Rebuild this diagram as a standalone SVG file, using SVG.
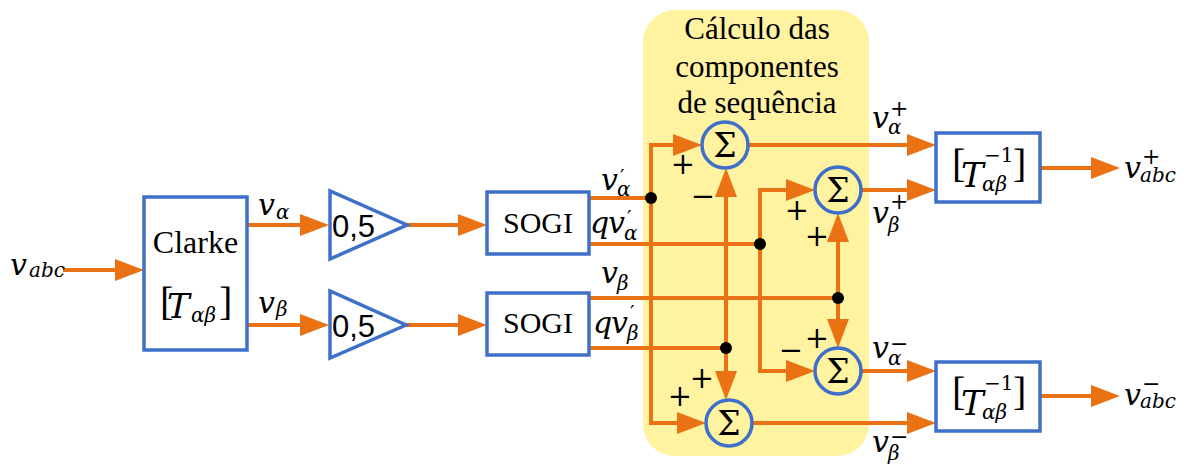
<svg xmlns="http://www.w3.org/2000/svg" width="1184" height="473" viewBox="0 0 1184 473">
<defs>
<style>
.w{fill:none;stroke:#EB7214;stroke-width:4}
.a{marker-end:url(#arr)}
.blk{fill:#fff;stroke:#3E6FC9;stroke-width:3.5}
.sum{fill:none;stroke:#3E6FC9;stroke-width:3.5}
.dot{fill:#000}
.t{font-family:"Liberation Serif","Times New Roman",serif;fill:#000}
.m{font-family:"DejaVu Serif",serif;font-style:italic;fill:#000}
.s{font-family:"DejaVu Serif",serif;fill:#000}
.g{font-family:"Liberation Sans",Arial,sans-serif;font-size:31px;fill:#000}
.v{font-size:30px}
.sb{font-size:20px}
.sp{font-size:22px}
.sg{font-family:"DejaVu Serif",serif;font-size:29px;text-anchor:middle;fill:#000}
.sig{font-family:"DejaVu Serif",serif;font-size:33px;text-anchor:middle;fill:#000}
</style>
<marker id="arr" markerUnits="userSpaceOnUse" markerWidth="30" markerHeight="24" refX="9" refY="11" orient="auto">
<path d="M0,0 L29,11 L0,22 z" fill="#EB7214"/>
</marker>
</defs>
<rect width="1184" height="473" fill="#fff"/>

<g id="seq-box">
<rect x="643" y="10" width="226" height="446" rx="32" ry="32" fill="#FFF2A1"/>
<text class="t" x="757" y="39" font-size="31" text-anchor="middle">Cálculo das</text>
<text class="t" x="757" y="77" font-size="31" text-anchor="middle">componentes</text>
<text class="t" x="757" y="113" font-size="31" text-anchor="middle">de sequência</text>
</g>

<g id="connectors">
<path class="w a" d="M63,270 H124"/>
<path class="w a" d="M247,225 H309"/>
<path class="w a" d="M247,325 H309"/>
<path class="w a" d="M407,225 H467"/>
<path class="w a" d="M406,325 H467"/>
<path class="w" d="M589,198 H651"/>
<path class="w" d="M589,244 H760"/>
<path class="w" d="M589,298 H838"/>
<path class="w" d="M589,348 H726"/>
<path class="w a" d="M651,198 V145 H682"/>
<path class="w a" d="M651,198 V423 H686"/>
<path class="w a" d="M760,244 V190 H795"/>
<path class="w a" d="M760,244 V371 H795"/>
<path class="w a" d="M838,298 V233"/>
<path class="w a" d="M838,298 V328"/>
<path class="w a" d="M726,348 V188"/>
<path class="w a" d="M726,348 V380"/>
<path class="w a" d="M748,145 H916"/>
<path class="w a" d="M861,190 H916"/>
<path class="w a" d="M860,371 H916"/>
<path class="w a" d="M752,423 H916"/>
<path class="w a" d="M1040,168 H1100"/>
<path class="w a" d="M1040,396 H1100"/>
<circle class="dot" cx="651" cy="198" r="6"/>
<circle class="dot" cx="760" cy="244" r="6"/>
<circle class="dot" cx="838" cy="298" r="6"/>
<circle class="dot" cx="726" cy="348" r="6"/>
</g>

<g id="input-label">
<text class="m v" x="10" y="275">v</text>
<text class="m sb" x="29" y="277">abc</text>
</g>

<g id="clarke">
<rect class="blk" x="144" y="197" width="103" height="153"/>
<text class="t" x="195.5" y="253" font-size="32" text-anchor="middle">Clarke</text>
<text class="t" x="160" y="315" font-size="40">[</text>
<text class="m" x="167" y="318" font-size="34">T</text>
<text class="m sb" x="191" y="322">αβ</text>
<text class="t" x="219" y="315" font-size="40">]</text>
</g>

<g id="clarke-labels">
<text class="m v" x="258" y="215">v</text>
<text class="m sb" x="276" y="219">α</text>
<text class="m v" x="258" y="313">v</text>
<text class="m sb" x="276" y="316">β</text>
</g>

<g id="gain1">
<polygon class="blk" points="330,191 330,259 407,225"/>
<text class="g" x="332" y="237">0,5</text>
</g>
<g id="gain2">
<polygon class="blk" points="330,291 330,358 406,325"/>
<text class="g" x="332" y="337">0,5</text>
</g>

<g id="sogi1">
<rect class="blk" x="487" y="192" width="102" height="62"/>
<text class="t" x="538" y="233" font-size="30" text-anchor="middle">SOGI</text>
</g>
<g id="sogi2">
<rect class="blk" x="487" y="293" width="102" height="62"/>
<text class="t" x="538" y="333" font-size="30" text-anchor="middle">SOGI</text>
</g>

<g id="sogi-labels">
<text class="m v" x="601" y="190">v</text>
<text class="s sb" x="620" y="184">′</text>
<text class="m sb" x="617" y="196">α</text>
<text class="m v" x="590" y="233">q</text>
<text class="m v" x="608" y="233">v</text>
<text class="s sb" x="627" y="225">′</text>
<text class="m sb" x="624" y="240">α</text>
<text class="m v" x="601" y="283">v</text>
<text class="m sb" x="617" y="290">β</text>
<text class="m v" x="593" y="333">q</text>
<text class="m v" x="611" y="333">v</text>
<text class="s sb" x="630" y="320">′</text>
<text class="m sb" x="627" y="340">β</text>
</g>

<g id="sum1">
<circle class="sum" cx="725" cy="145" r="23"/>
<text class="sig" x="725" y="157">Σ</text>
<text class="sg" x="683" y="174">+</text>
<text class="sg" x="703" y="206">−</text>
</g>
<g id="sum2">
<circle class="sum" cx="838" cy="190" r="23"/>
<text class="sig" x="838" y="202">Σ</text>
<text class="sg" x="797" y="220">+</text>
<text class="sg" x="817" y="246">+</text>
</g>
<g id="sum3">
<circle class="sum" cx="838" cy="371" r="23"/>
<text class="sig" x="838" y="383">Σ</text>
<text class="sg" x="817" y="348">+</text>
<text class="sg" x="791" y="360">−</text>
</g>
<g id="sum4">
<circle class="sum" cx="729" cy="423" r="23"/>
<text class="sig" x="729" y="435">Σ</text>
<text class="sg" x="702" y="388">+</text>
<text class="sg" x="680" y="406">+</text>
</g>

<g id="seq-labels">
<text class="m v" x="872" y="128">v</text>
<text class="s sp" x="890" y="116">+</text>
<text class="m sb" x="888" y="134">α</text>
<text class="m v" x="872" y="223">v</text>
<text class="s sp" x="890" y="209">+</text>
<text class="m sb" x="888" y="232">β</text>
<text class="m v" x="872" y="358">v</text>
<text class="s sp" x="890" y="351">−</text>
<text class="m sb" x="888" y="365">α</text>
<text class="m v" x="872" y="452">v</text>
<text class="s sp" x="890" y="444">−</text>
<text class="m sb" x="888" y="460">β</text>
</g>

<g id="tinv1">
<rect class="blk" x="936" y="133" width="104" height="69"/>
<text class="t" x="952" y="177" font-size="40">[</text>
<text class="m" x="961" y="187" font-size="34">T</text>
<text class="s sb" x="984" y="162">−1</text>
<text class="m sb" x="982" y="191">αβ</text>
<text class="t" x="1013" y="177" font-size="40">]</text>
</g>
<g id="tinv2">
<rect class="blk" x="936" y="362" width="104" height="69"/>
<text class="t" x="952" y="405" font-size="40">[</text>
<text class="m" x="961" y="415" font-size="34">T</text>
<text class="s sb" x="984" y="390">−1</text>
<text class="m sb" x="982" y="419">αβ</text>
<text class="t" x="1013" y="405" font-size="40">]</text>
</g>

<g id="out-labels">
<text class="m v" x="1124" y="178">v</text>
<text class="s sp" x="1142" y="164">+</text>
<text class="m sb" x="1140" y="182">abc</text>
<text class="m v" x="1124" y="405">v</text>
<text class="s sp" x="1142" y="391">−</text>
<text class="m sb" x="1140" y="408">abc</text>
</g>
</svg>
